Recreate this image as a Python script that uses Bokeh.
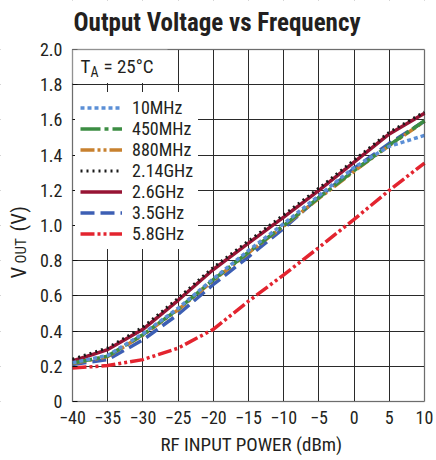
import math
from bokeh.plotting import figure
from bokeh.models import (Range1d, FixedTicker, CustomJSTickFormatter, Legend, LegendItem,
                          Label, BoxAnnotation)
from bokeh.embed import file_html
from bokeh.resources import INLINE

# ---- data ----
power_dbm = [-40, -35, -30, -25, -20, -15, -10, -5, 0, 5, 10]
v_10mhz  = [0.220, 0.262, 0.385, 0.530, 0.697, 0.858, 1.010, 1.170, 1.330, 1.450, 1.512]
v_450mhz = [0.218, 0.258, 0.380, 0.525, 0.692, 0.848, 1.000, 1.158, 1.312, 1.457, 1.595]
v_880mhz = [0.216, 0.255, 0.377, 0.521, 0.688, 0.845, 0.997, 1.154, 1.308, 1.454, 1.592]
v_214ghz = [0.240, 0.305, 0.422, 0.587, 0.762, 0.912, 1.060, 1.212, 1.372, 1.530, 1.645]
v_26ghz  = [0.230, 0.295, 0.410, 0.575, 0.750, 0.900, 1.048, 1.200, 1.360, 1.520, 1.638]
v_35ghz  = [0.210, 0.238, 0.350, 0.495, 0.665, 0.822, 0.984, 1.160, 1.324, 1.467, 1.592]
v_58ghz  = [0.190, 0.204, 0.238, 0.303, 0.410, 0.570, 0.720, 0.875, 1.035, 1.200, 1.355]

x_ticks = [-40, -35, -30, -25, -20, -15, -10, -5, 0, 5, 10]
y_ticks = [0, 0.2, 0.4, 0.6, 0.8, 1.0, 1.2, 1.4, 1.6, 1.8, 2.0]
x_lo, x_hi = -40, 10
y_lo, y_hi = 0, 2.0

FONT = "'Roboto Condensed', 'Liberation Sans Narrow', 'DejaVu Sans Condensed', sans-serif"
TXT = "#231f20"

# canvas geometry (pixels): plot area 352x352 at (72, 49) on a 436x460 canvas
W, H = 436, 460
PL, PT, PW, PH = 72, 49, 352, 352
sx = (x_hi - x_lo) / PW
sy = (y_hi - y_lo) / PH

p = figure(width=W, height=H, min_border=0,
           x_range=Range1d(x_lo - PL * sx, x_hi + (W - PL - PW) * sx),
           y_range=Range1d(y_lo - (H - PT - PH) * sy, y_hi + PT * sy),
           output_backend="svg", toolbar_location=None,
           background_fill_color="white", border_fill_color="white")
p.outline_line_color = None

p.xaxis.fixed_location = y_lo
p.yaxis.fixed_location = x_lo
p.xaxis.bounds = (x_lo, x_hi)
p.yaxis.bounds = (y_lo, y_hi)
for ax in (p.xaxis[0], p.yaxis[0]):
    ax.axis_line_color = None
    ax.minor_tick_line_color = None
    ax.major_label_text_font = FONT
    ax.major_label_text_font_size = "18px"
    ax.major_label_text_color = TXT
    ax.major_tick_out = 0

p.xaxis.ticker = FixedTicker(ticks=x_ticks)
p.yaxis.ticker = FixedTicker(ticks=y_ticks)
p.xaxis.major_tick_in = 0
p.xaxis.major_label_standoff = 9
p.yaxis.major_tick_in = 5
p.yaxis.major_label_standoff = 10
p.yaxis.major_tick_line_color = "#111111"
p.xaxis.formatter = CustomJSTickFormatter(code="return tick < 0 ? '\u2212' + (-tick) : String(tick);")
p.yaxis.formatter = CustomJSTickFormatter(code="return tick === 0 ? '0' : tick.toFixed(1);")

p.xgrid.ticker = FixedTicker(ticks=x_ticks)
p.ygrid.ticker = FixedTicker(ticks=y_ticks)
p.grid.grid_line_color = "#2a2a2a"
p.grid.grid_line_width = 1

# white masks keep the grid inside the plot area
for kw in (dict(bottom=y_hi), dict(top=y_lo), dict(right=x_lo), dict(left=x_hi)):
    p.add_layout(BoxAnnotation(fill_color="white", fill_alpha=1, line_alpha=0,
                               level="underlay", **kw))

LW = 3.5
r58 = p.line(power_dbm, v_58ghz, line_color="#e3242f", line_width=LW, line_dash="14 3 3 3 3 3")
r35 = p.line(power_dbm, v_35ghz, line_color="#3d5fb4", line_width=LW, line_dash="14 6")
r26 = p.line(power_dbm, v_26ghz, line_color="#971434", line_width=LW)
r214 = p.line(power_dbm, v_214ghz, line_color="#1a1a1a", line_width=3, line_dash="2 4")
r880 = p.line(power_dbm, v_880mhz, line_color="#c8812f", line_width=LW, line_dash="14 3 3 3 3 3")
r450 = p.line(power_dbm, v_450mhz, line_color="#3c8d43", line_width=LW, line_dash="20 4 4 4")
r10 = p.line(power_dbm, v_10mhz, line_color="#5b8fd6", line_width=LW, line_dash="4 3")

# T_A box (white mask over the grid) and plot border
p.add_layout(BoxAnnotation(left=x_lo, right=-26.5, bottom=1.81, top=y_hi,
                           fill_color="white", fill_alpha=1, line_alpha=0))
p.add_layout(BoxAnnotation(left=x_lo, right=x_hi, bottom=y_lo, top=y_hi,
                           fill_alpha=0, line_color="#111111", line_width=1.5))

legend = Legend(items=[
    LegendItem(label="10MHz", renderers=[r10]),
    LegendItem(label="450MHz", renderers=[r450]),
    LegendItem(label="880MHz", renderers=[r880]),
    LegendItem(label="2.14GHz", renderers=[r214]),
    LegendItem(label="2.6GHz", renderers=[r26]),
    LegendItem(label="3.5GHz", renderers=[r35]),
    LegendItem(label="5.8GHz", renderers=[r58]),
], location=(75, H - 249))
legend.background_fill_color = "white"
legend.background_fill_alpha = 1
legend.border_line_alpha = 0
legend.label_text_font = FONT
legend.label_text_font_size = "18px"
legend.label_text_color = TXT
legend.glyph_width = 42
legend.glyph_height = 21
legend.label_height = 21
legend.spacing = 0
legend.padding = 5
legend.margin = 0
legend.label_standoff = 10
p.add_layout(legend)

def lab(text, x, y, size, angle=0, bold=False, align="left"):
    # x, y: pixels from the canvas' left edge and top edge (baseline position)
    p.add_layout(Label(x=x, y=H - y, x_units="screen", y_units="screen", text=text,
                       text_font=FONT, text_font_size=size, text_color=TXT,
                       text_font_style="bold" if bold else "normal",
                       text_align=align, text_baseline="alphabetic", angle=angle))

lab("Output Voltage vs Frequency", 73, 21.5, "25px", bold=True)
lab("T", 80, 66, "19px")
lab("A", 90, 71, "14px")
lab("= 25°C", 103, 66, "19px")
lab("RF INPUT POWER (dBm)", 251, 444, "19px", align="center")
lab("V", 18, 278, "21px", angle=math.pi / 2)
lab("OUT", 20.5, 263, "15px", angle=math.pi / 2)
lab("(V)", 18, 231, "21px", angle=math.pi / 2)

open("out.html", "w").write(file_html(p, INLINE))
